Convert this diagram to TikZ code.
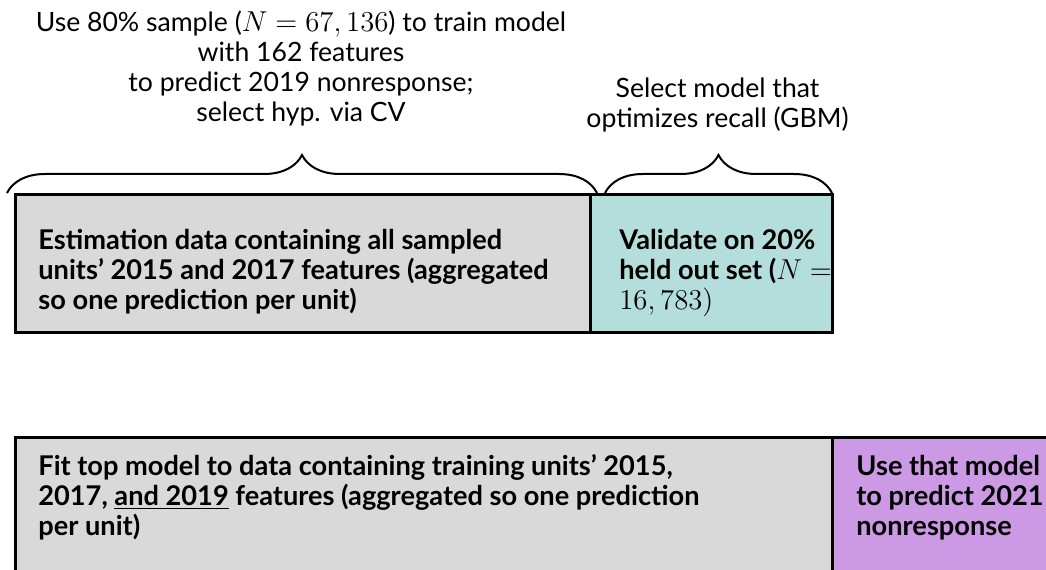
\documentclass[tikz,border=0pt]{standalone}
\usepackage{fontspec}
\setmainfont{Lato}
\usetikzlibrary{decorations.pathreplacing}
\definecolor{boxgray}{RGB}{217,217,217}
\definecolor{boxteal}{RGB}{179,222,219}
\definecolor{boxpurple}{RGB}{204,153,229}
\begin{document}
\begin{tikzpicture}[x=0.5pt,y=0.5pt,
  boxstyle/.style={draw=black, line width=1.5pt, inner sep=0pt, outer sep=0pt, anchor=north west, minimum height=68.5pt},
  bracestyle/.style={decorate, decoration={brace, amplitude=19pt}, line width=1pt},
  boxtext/.style={font=\fontsize{13.6}{15}\selectfont\bfseries, align=left, inner sep=0pt, anchor=base west},
  toptext/.style={font=\fontsize{13.3}{15}\selectfont, align=center, inner sep=0pt, anchor=base}]
\useasboundingbox (0,0) rectangle (1046,569);
\clip (0,0) rectangle (1046,569);
% top row
\node[boxstyle, fill=boxgray, minimum width=287.5pt] (est) at (15,374) {};
\node[boxstyle, fill=boxteal, minimum width=121pt] (val) at (590,374) {};
\node[boxtext] (esttext) at (38,260) {Estimation data containing all sampled\\units' 2015 and 2017 features (aggregated\\so one prediction per unit)};
\begin{scope}
  \clip (590,374) rectangle (830.5,237);
  \node[boxtext] (valtext) at (619,260) {Validate on 20\%\\held out set (\(N =\)\\\(16,783)\)};
\end{scope}
% braces
\coordinate (b1s) at (7,376);
\coordinate (b1e) at (597,376);
\coordinate (b2s) at (605,376);
\coordinate (b2e) at (832,376);
\draw[bracestyle] (b1s) -- (b1e);
\draw[bracestyle] (b2s) -- (b2e);
\node[toptext] (lab1) at (301,447.5) {Use 80\% sample (\(N=67,136\)) to train model\\with 162 features\\to predict 2019 nonresponse;\\select hyp. via CV};
\node[toptext] (lab2) at (717.5,441) {Select model that\\optimizes recall (GBM)};
% bottom row
\node[boxstyle, fill=boxgray, minimum width=408.5pt, minimum height=72pt] (fit) at (15,132) {};
\node[boxstyle, fill=boxpurple, minimum width=130pt, minimum height=72pt] (use) at (832,132) {};
\node[boxtext] (fittext) at (38,34) {Fit top model to data containing training units' 2015,\\2017, \underline{and 2019} features (aggregated so one prediction\\per unit)};
\node[boxtext] (usetext) at (856,34) {Use that model\\to predict 2021\\nonresponse};
\end{tikzpicture}
\end{document}
